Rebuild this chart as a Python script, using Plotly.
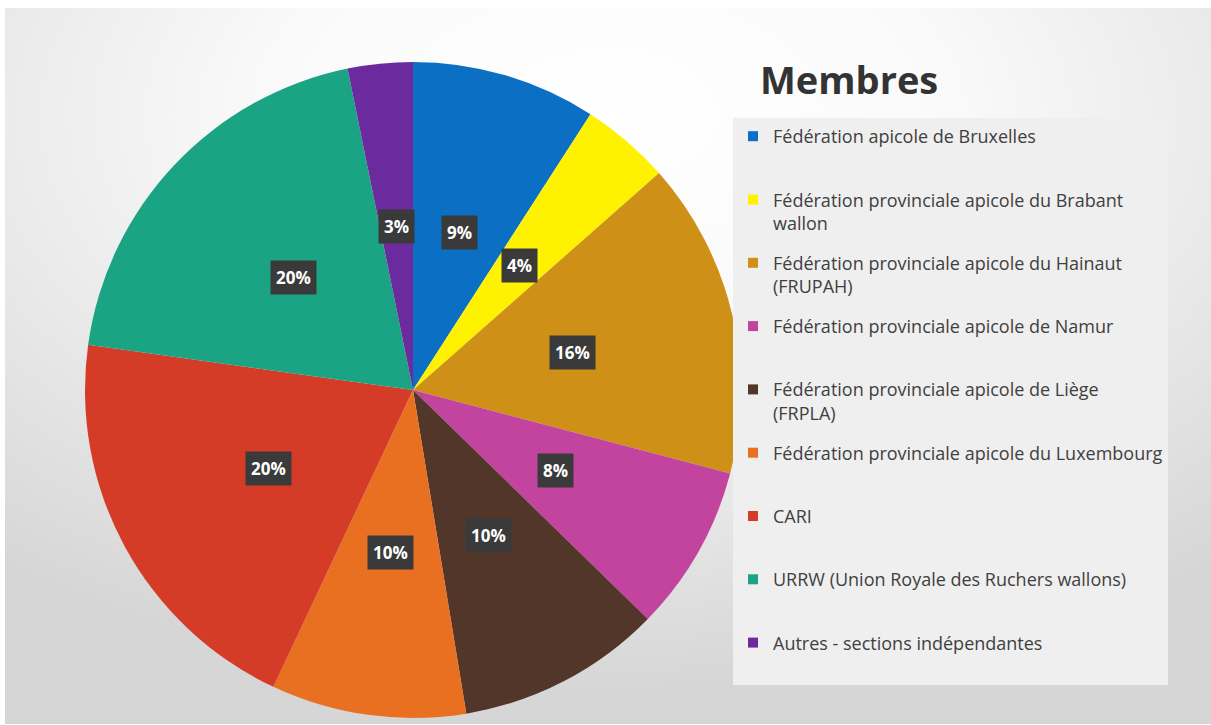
import math
import base64
import plotly.graph_objects as go

# ---------------- data ----------------
categories = [
    "Fédération apicole de Bruxelles",
    "Fédération provinciale apicole du Brabant wallon",
    "Fédération provinciale apicole du Hainaut (FRUPAH)",
    "Fédération provinciale apicole de Namur",
    "Fédération provinciale apicole de Liège (FRPLA)",
    "Fédération provinciale apicole du Luxembourg",
    "CARI",
    "URRW (Union Royale des Ruchers wallons)",
    "Autres - sections indépendantes",
]
legend_labels = [
    "Fédération apicole de Bruxelles<br> ",
    "Fédération provinciale apicole du Brabant<br>wallon",
    "Fédération provinciale apicole du Hainaut<br>(FRUPAH)",
    "Fédération provinciale apicole de Namur<br> ",
    "Fédération provinciale apicole de Liège<br>(FRPLA)",
    "Fédération provinciale apicole du Luxembourg<br> ",
    "CARI<br> ",
    "URRW (Union Royale des Ruchers wallons)<br> ",
    "Autres - sections indépendantes<br> ",
]
values = [9.1, 4.4, 15.6, 8.2, 10.1, 9.6, 20.2, 19.6, 3.2]
colors = ["#0b6fc4", "#fff200", "#cf9017", "#c2449f", "#523629",
          "#ea7021", "#d53c28", "#1aa484", "#6b2b9f"]
title_text = "Membres"

# ---------------- layout geometry ----------------
W, H = 1211, 725
CX, CY, R = 413, 390, 328
dom_x = [(CX - R) / W, (CX + R) / W]
dom_y = [1 - (CY + R) / H, 1 - (CY - R) / H]

# background gradient as SVG
svg = f'''<svg xmlns="http://www.w3.org/2000/svg" width="{W}" height="{H}" viewBox="0 0 {W} {H}" preserveAspectRatio="none">
<defs><radialGradient id="g" cx="0.5" cy="0.15" r="0.8">
<stop offset="0" stop-color="#ffffff"/><stop offset="0.35" stop-color="#fafafa"/>
<stop offset="1" stop-color="#d6d6d6"/></radialGradient></defs>
<rect x="0" y="0" width="{W}" height="{H}" fill="#ffffff"/>
<rect x="5" y="8" width="{W-5}" height="{H-9}" fill="url(#g)"/>
</svg>'''
bg_src = "data:image/svg+xml;base64," + base64.b64encode(svg.encode()).decode()

fig = go.Figure()
fig.add_trace(go.Pie(
    labels=categories, values=values, sort=False, direction="clockwise",
    rotation=0, marker=dict(colors=colors, line=dict(width=0)),
    textinfo="none", showlegend=False, hoverinfo="label+percent",
    domain=dict(x=dom_x, y=dom_y),
))

# legend entries (one group each so spacing can be controlled)
for i, (lab, col) in enumerate(zip(legend_labels, colors)):
    fig.add_trace(go.Scatter(
        x=[None], y=[None], mode="markers", name=lab, legendgroup=f"g{i}",
        marker=dict(symbol="square", size=10, color=col), showlegend=True,
    ))

# percentage labels in dark boxes at half radius
total = sum(values)
annotations = []
cum = 0.0
for v in values:
    theta = 2 * math.pi * (cum + v / 2) / total
    cum += v
    px = CX + 0.5 * R * math.sin(theta)
    py = CY - 0.5 * R * math.cos(theta)
    annotations.append(dict(
        x=px / W, y=1 - py / H, xref="paper", yref="paper", showarrow=False,
        xanchor="center", yanchor="middle",
        text=f"<b>{round(v / total * 100)}%</b>",
        font=dict(family="Open Sans", size=17, color="white"),
        bgcolor="#3a3a3a", borderpad=5,
    ))

annotations.append(dict(
    x=758 / W, y=1 - 79 / H, xref="paper", yref="paper", showarrow=False,
    xanchor="left", yanchor="middle", text=f"<b>{title_text}</b>",
    font=dict(family="Open Sans", size=38, color="#333333"),
))

fig.update_layout(
    width=W, height=H, margin=dict(l=0, r=0, t=0, b=0),
    paper_bgcolor="white", plot_bgcolor="rgba(0,0,0,0)",
    xaxis=dict(visible=False), yaxis=dict(visible=False),
    images=[dict(source=bg_src, xref="paper", yref="paper", x=0, y=1,
                 sizex=1, sizey=1, sizing="stretch", layer="below")],
    annotations=annotations,
    legend=dict(
        x=733 / W, y=1 - 118 / H, xanchor="left", yanchor="top",
        bgcolor="#efefef", font=dict(family="Open Sans", size=18, color="#404040"),
        tracegroupgap=13.5, valign="top", itemclick=False, itemdoubleclick=False,
    ),
    showlegend=True,
)

fig.write_html("out.html", config={"displayModeBar": False},
               post_script="document.body.style.margin='0';")
